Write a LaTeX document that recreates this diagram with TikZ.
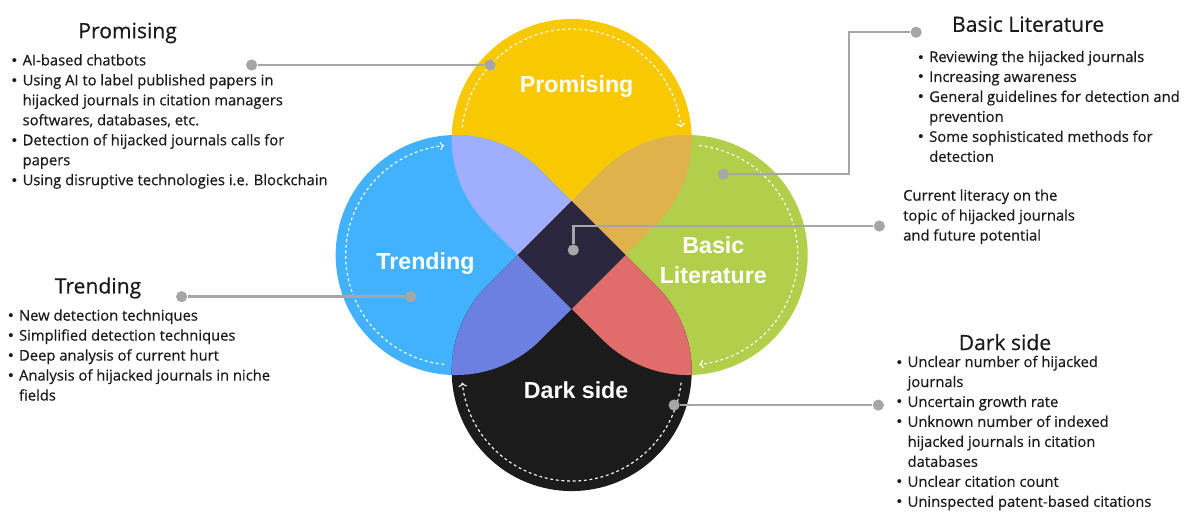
\documentclass[tikz,border=0pt]{standalone}
\usepackage{fontspec}
\setmainfont{Open Sans}[FakeBold=0.5]
\newfontfamily\petalfont{Liberation Sans}
\usetikzlibrary{calc, arrows.meta}
\definecolor{promyellow}{RGB}{248, 200, 0}
\definecolor{trendblue}{RGB}{66, 178, 255}
\definecolor{litgreen}{RGB}{178, 207, 75}
\definecolor{darkblack}{RGB}{27, 27, 27}
\definecolor{ybmix}{RGB}{160, 174, 255}
\definecolor{ygmix}{RGB}{224, 178, 75}
\definecolor{bkmix}{RGB}{107, 128, 224}
\definecolor{gkmix}{RGB}{224, 108, 108}
\definecolor{coremix}{RGB}{41, 38, 61}
\definecolor{linegray}{RGB}{166, 166, 166}
\definecolor{textdark}{RGB}{26, 26, 26}

% one petal: sharp tip near the centre, round bulb pointing at angle #1
\newcommand{\petal}[1]{({#1+180}:1.35) -- ($({#1}:2.9)+({#1+135}:3.0)$) arc[start angle={#1+135}, delta angle=-270, radius=3.0] -- cycle}
\newcommand{\bul}{{\petalfont\textbullet}}

\begin{document}
\begin{tikzpicture}[
        heading/.style={anchor=base, inner sep=0pt, text=textdark, font=\fontsize{15}{18}\selectfont},
        bullets/.style={anchor=base west, inner sep=0pt, text=textdark, font=\fontsize{10.5}{14.2}\selectfont},
        petallabel/.style={text=white, align=center, font=\petalfont\bfseries\fontsize{16.5}{21.8}\selectfont},
        flow/.style={white, line width=0.8pt, dash pattern=on 2pt off 2pt, -{To[length=3pt, width=6pt]}},
        dot/.style={circle, fill=linegray, inner sep=0pt, minimum size=0.28cm},
        link/.style={linegray, line width=1.8pt}
    ]
    \useasboundingbox (-14.29, -6.5) rectangle (15.58, 6.375);

    % petals
    \fill[promyellow] \petal{90};
    \fill[trendblue] \petal{180};
    \fill[litgreen] \petal{0};
    \fill[darkblack] \petal{270};

    % overlaps
    \begin{scope}
        \clip \petal{90};
        \fill[ybmix] \petal{180};
        \fill[ygmix] \petal{0};
    \end{scope}
    \begin{scope}
        \clip \petal{270};
        \fill[bkmix] \petal{180};
        \fill[gkmix] \petal{0};
    \end{scope}
    \fill[coremix] (0, 1.35) -- (1.35, 0) -- (0, -1.35) -- (-1.35, 0) -- cycle;

    % dashed cycle arrows
    \foreach \a in {90, 0, 270, 180}
        \draw[flow] ($({\a}:2.9)+({\a+84}:2.75)$) arc[start angle={\a+84}, delta angle=-168, radius=2.75];

    \node[petallabel, anchor=base] (promising) at (0.125, 4.06) {Promising};
    \node[petallabel, anchor=base] (trending) at (-3.655, -0.36) {Trending};
    \node[petallabel] (literature) at (3.54, -0.13) {Basic\\Literature};
    \node[petallabel, anchor=base] (darkside) at (0.11, -3.58) {Dark side};

    % headings and lists
    \node[heading] (promhead) at (-11.1, 5.42) {Promising};
    \node[bullets] (promlist) at (-14.0, 4.74) {\begin{tabular}[t]{@{}l@{\hspace{4pt}}l@{}}
        \bul & AI-based chatbots\\
        \bul & Using AI to label published papers in\\
        & hijacked journals in citation managers\\
        & softwares, databases, etc.\\
        \bul & Detection of hijacked journals calls for\\
        & papers\\
        \bul & Using disruptive technologies i.e. Blockchain
    \end{tabular}};

    \node[heading] (trendhead) at (-11.84, -0.96) {Trending};
    \node[bullets] (trendlist) at (-14.09, -1.64) {\begin{tabular}[t]{@{}l@{\hspace{4pt}}l@{}}
        \bul & New detection techniques\\
        \bul & Simplified detection techniques\\
        \bul & Deep analysis of current hurt\\
        \bul & Analysis of hijacked journals in niche\\
        & fields
    \end{tabular}};

    \node[heading] (lithead) at (11.41, 5.58) {Basic Literature};
    \node[bullets] (litlist) at (8.66, 4.825) {\begin{tabular}[t]{@{}l@{\hspace{4pt}}l@{}}
        \bul & Reviewing the hijacked journals\\
        \bul & Increasing awareness\\
        \bul & General guidelines for detection and\\
        & prevention\\
        \bul & Some sophisticated methods for\\
        & detection
    \end{tabular}};

    \node[bullets] (corenote) at (8.28, 1.36) {\begin{tabular}[t]{@{}l@{}}
        Current literacy on the\\
        topic of hijacked journals\\
        and future potential
    \end{tabular}};

    \node[heading] (darkhead) at (10.83, -2.375) {Dark side};
    \node[bullets] (darklist) at (8.12, -2.8) {\begin{tabular}[t]{@{}l@{\hspace{4pt}}l@{}}
        \bul & Unclear number of hijacked\\
        & journals\\
        \bul & Uncertain growth rate\\
        \bul & Unknown number of indexed\\
        & hijacked journals in citation\\
        & databases\\
        \bul & Unclear citation count\\
        \bul & Uninspected patent-based citations
    \end{tabular}};

    % connectors
    \node[dot] (promdotL) at (-8.0, 4.75) {};
    \node[dot] (promdotR) at (-2.04, 4.75) {};
    \node[dot] (litdotA) at (3.79, 2.02) {};
    \node[dot] (litdotB) at (8.61, 5.57) {};
    \coordinate (litbend) at (6.93, 5.57);
    \node[dot] (coredotA) at (0.04, 0.125) {};
    \node[dot] (coredotB) at (7.69, 0.725) {};
    \node[dot] (trenddotL) at (-9.75, -1.04) {};
    \node[dot] (trenddotR) at (-4.025, -1.04) {};
    \node[dot] (darkdotL) at (2.56, -3.75) {};
    \node[dot] (darkdotR) at (7.665, -3.75) {};

    \draw[link] (promdotL) -- (promdotR);
    \draw[link] (litdotA) -| (litbend) -- (litdotB);
    \draw[link] (coredotA) |- (coredotB);
    \draw[link] (trenddotL) -- (trenddotR);
    \draw[link] (darkdotL) -- (darkdotR);
\end{tikzpicture}
\end{document}
